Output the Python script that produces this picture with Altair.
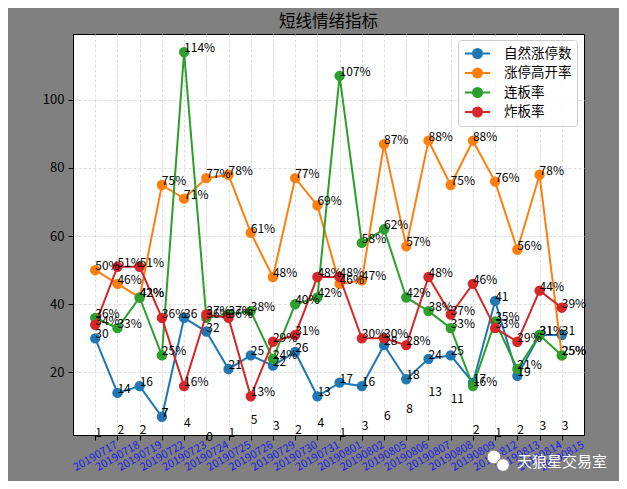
import altair as alt
import pandas as pd

dates = ["20190717", "20190718", "20190719", "20190722", "20190723", "20190724",
         "20190725", "20190726", "20190729", "20190730", "20190731", "20190801",
         "20190802", "20190805", "20190806", "20190807", "20190808", "20190809",
         "20190812", "20190813", "20190814", "20190815"]
natural_limit_up = [30, 14, 16, 7, 36, 32, 21, 25, 22, 26, 13, 17, 16, 28, 18, 24, 25, 17, 41, 19, 31, 31]
high_open_rate = [50, 46, 42, 75, 71, 77, 78, 61, 48, 77, 69, 46, 47, 87, 57, 88, 75, 88, 76, 56, 78, 25]
consecutive_rate = [36, 33, 42, 25, 114, 36, 37, 38, 24, 40, 42, 107, 58, 62, 42, 38, 33, 16, 35, 21, 31, 25]
broken_rate = [34, 51, 51, 36, 16, 37, 36, 13, 29, 31, 48, 48, 30, 30, 28, 48, 37, 46, 33, 29, 44, 39]
bottom_counts = [1, 2, 2, 7, 4, 0, 1, 5, 3, 2, 4, 1, 3, 6, 8, 13, 11, 2, 1, 2, 3, 3]

series_names = ["自然涨停数", "涨停高开率", "连板率", "炸板率"]
series_values = [natural_limit_up, high_open_rate, consecutive_rate, broken_rate]
colors = ["#1f77b4", "#ff7f0e", "#2ca02c", "#d62728"]
y_ticks = [20, 40, 60, 80, 100]
title_text = "短线情绪指标"
watermark = "天狼星交易室"

FONT = "Noto Sans CJK SC"

rows = []
for name, vals in zip(series_names, series_values):
    for d, v in zip(dates, vals):
        rows.append({"date": d, "series": name, "value": v,
                     "label": f"{v}" if name == series_names[0] else f"{v}%"})
df = pd.DataFrame(rows)
cnt = pd.DataFrame({"date": dates, "count": bottom_counts})

x_enc = alt.X("date:N", sort=dates,
              scale=alt.Scale(type="point", domain=dates, padding=1.05),
              axis=alt.Axis(title=None, labelAngle=330, labelAlign="center",
                            labelBaseline="middle", labelPadding=16,
                            labelColor="#1e1ee6", labelFontSize=11,
                            labelOverlap=False, labelFont=FONT,
                            tickColor="black", tickSize=5, domainColor="black",
                            grid=True, gridColor="#d4d4d4", gridDash=[3, 2],
                            gridWidth=0.8))
y_scale = alt.Scale(domain=[1.65, 119.3], nice=False, zero=False)
y_axis = alt.Axis(title=None, values=y_ticks, labelColor="black", labelFontSize=13,
                  labelFont=FONT, labelPadding=4, tickColor="black", tickSize=5,
                  domainColor="black", grid=True, gridColor="#d4d4d4",
                  gridDash=[3, 2], gridWidth=0.8)

color_scale = alt.Scale(domain=series_names, range=colors)
sym_path = ("M-0.87,0L2.47,0M1.4,0A0.6,0.6,0,1,1,0.2,0A0.6,0.6,0,1,1,1.4,0Z")
legend = alt.Legend(title=None, orient="none", legendX=385, legendY=6,
                    symbolType=sym_path, symbolSize=225, symbolStrokeWidth=2,
                    symbolOpacity=1,
                    labelFont=FONT, labelFontSize=13.5, labelColor="black",
                    labelOffset=24, padding=5, rowPadding=0.5,
                    fillColor="rgba(255,255,255,0.85)", strokeColor="#cccccc",
                    cornerRadius=3)

base = alt.Chart(df)
layers = []
for i, name in enumerate(series_names):
    sub = base.transform_filter(alt.datum.series == name)
    line = sub.mark_line(strokeWidth=2).encode(
        x=x_enc,
        y=alt.Y("value:Q", scale=y_scale, axis=y_axis),
        stroke=alt.Stroke("series:N", scale=color_scale, legend=legend),
    )
    pts = sub.mark_point(filled=True, size=70, opacity=1, shape="circle").encode(
        x=x_enc,
        y=alt.Y("value:Q", scale=y_scale, axis=y_axis),
        fill=alt.Fill("series:N", scale=color_scale, legend=legend),
        stroke=alt.Stroke("series:N", scale=color_scale, legend=legend),
    )
    layers += [line, pts]

labels = base.mark_text(align="left", baseline="alphabetic", fontSize=12,
                        font=FONT, color="black").encode(
    x=x_enc, y=alt.Y("value:Q", scale=y_scale, axis=y_axis), text="label:N")

counts = alt.Chart(cnt).mark_text(align="left", baseline="alphabetic", fontSize=12,
                                  font=FONT, color="black").encode(
    x=x_enc, y=alt.Y("count:Q", scale=y_scale, axis=y_axis), text="count:Q")

wm_df = pd.DataFrame({"t": [watermark]})
wm_text = alt.Chart(wm_df).mark_text(align="left", baseline="middle", fontSize=15,
                                     font=FONT, color="white").encode(
    x=alt.value(444), y=alt.value(428), text="t:N")
icon1 = alt.Chart(wm_df).mark_point(filled=True, shape="circle", size=190,
                                    color="white", opacity=1,
                                    stroke="#808080", strokeWidth=1).encode(
    x=alt.value(421), y=alt.value(423))
icon2 = alt.Chart(wm_df).mark_point(filled=True, shape="circle", size=160,
                                    color="white", opacity=1,
                                    stroke="#808080", strokeWidth=1).encode(
    x=alt.value(430), y=alt.value(431))

chart = alt.layer(*layers, labels, counts, icon1, icon2, wm_text).properties(
    width=511, height=401,
    padding={"left": 65, "top": 26, "right": 35, "bottom": 46},
    autosize=alt.AutoSizeParams(type="none"),
    background="#808080",
    title=alt.Title(title_text, fontSize=16.5, font=FONT, fontWeight="normal",
                    color="black", offset=4, anchor="middle"),
).configure_view(fill="white", stroke="black", strokeWidth=1)

chart.save("out.html", embed_options={"renderer": "svg", "actions": False})
